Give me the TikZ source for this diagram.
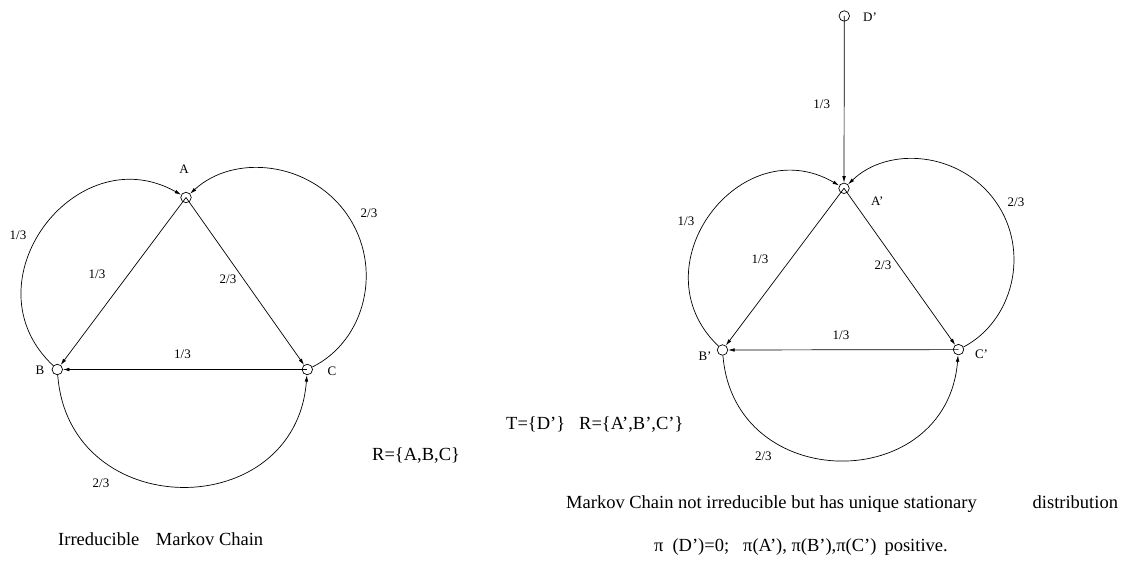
\documentclass[tikz,border=0pt]{standalone}
\usepackage{fontspec}
\setmainfont{Liberation Serif}
\usetikzlibrary{arrows.meta}
\begin{document}
\begin{tikzpicture}[x=1pt,y=-1pt,
  state/.style={circle,draw,line width=0.7pt,minimum size=10.5pt,inner sep=0pt},
  edge/.style={line width=0.7pt,-{Latex[length=6.5pt,width=3.6pt]}},
  nlab/.style={font=\fontsize{13}{15}\selectfont,inner sep=0pt},
  elab/.style={font=\fontsize{13}{15}\selectfont,inner sep=0pt},
  big/.style={font=\fontsize{18.5}{22}\selectfont,inner sep=0pt,anchor=base west}]
\useasboundingbox (0,0) rectangle (1128,575);

% ---------- left chain ----------
\node[state] (A) at (186,197.5) {};
\node[state] (B) at (57.3,369.5) {};
\node[state] (C) at (307.3,369.5) {};
\node[nlab] (lA) at (184,169) {A};
\node[nlab] (lB) at (40,370.5) {B};
\node[nlab] (lC) at (332,371) {C};
\coordinate (mR1) at (346.7,214.0);

\draw[edge] (A.center) -- (B);
\draw[edge] (A.center) -- (C);
\draw[edge] (C.center) -- (B);
\draw[edge] (B) .. controls (-35.3,282.8) and (75.8,135.5) .. (A);
\draw[edge] (C) .. controls (365.4,340.8) and (384.0,267.0) .. (mR1)
               .. controls (309.4,161.0) and (233.7,153.6) .. (A);
\draw[edge] (B) .. controls (69.0,523.9) and (295.6,523.9) .. (C);

\node[elab] (e1) at (97,274) {1/3};
\node[elab] (e2) at (228,279.5) {2/3};
\node[elab] (e3) at (182.5,354) {1/3};
\node[elab] (e4) at (18,235) {1/3};
\node[elab] (e5) at (369,213.5) {2/3};
\node[elab] (e6) at (101,483.3) {2/3};

\node[big] (t1) at (58,545) {Irreducible\hspace{16.5pt}Markov Chain};
\node[big] (t2) at (372,460) {R=\{A,B,C\}};

% ---------- right chain ----------
\node[state] (Ap) at (844,188.3) {};
\node[state] (Bp) at (722.5,350) {};
\node[state] (Cp) at (958.5,349.6) {};
\node[state] (Dp) at (844.3,16) {};
\node[nlab] (lDp) at (870,17.3) {D’};
\node[nlab] (lAp) at (877.3,200.7) {A’};
\node[nlab] (lBp) at (705,356) {B’};
\node[nlab] (lCp) at (981.5,354) {C’};
\coordinate (mR2) at (995.5,201.4);

\draw[edge] (Dp.center) -- (Ap);
\draw[edge] (Ap.center) -- (Bp);
\draw[edge] (Ap.center) -- (Cp);
\draw[edge] (Cp.center) -- (Bp);
\draw[edge] (Bp) .. controls (635.5,267.0) and (740.2,128.0) .. (Ap);
\draw[edge] (Cp) .. controls (1012.7,321.3) and (1031.0,251.3) .. (mR2)
                .. controls (960.0,151.5) and (888.1,145.7) .. (Ap);
\draw[edge] (Bp) .. controls (734.1,495.3) and (946.9,495.3) .. (Cp);

\node[elab] (f0) at (821.7,104) {1/3};
\node[elab] (f1) at (686,221.7) {1/3};
\node[elab] (f2) at (760,259.5) {1/3};
\node[elab] (f3) at (883,265) {2/3};
\node[elab] (f4) at (841,335.5) {1/3};
\node[elab] (f5) at (1016,202.7) {2/3};
\node[elab] (f6) at (763.3,456.7) {2/3};

\node[big] (t3) at (506,429) {T=\{D’\}\hspace{14pt}R=\{A’,B’,C’\}};
\node[big] (t4) at (566,508) {Markov Chain not irreducible but has unique stationary\hspace{56pt}distribution};
\node[big] (t5) at (654,551) {π\hspace{9pt}(D’)=0;\hspace{14pt}π(A’), π(B’),π(C’)\hspace{8pt}positive.};
\end{tikzpicture}
\end{document}
